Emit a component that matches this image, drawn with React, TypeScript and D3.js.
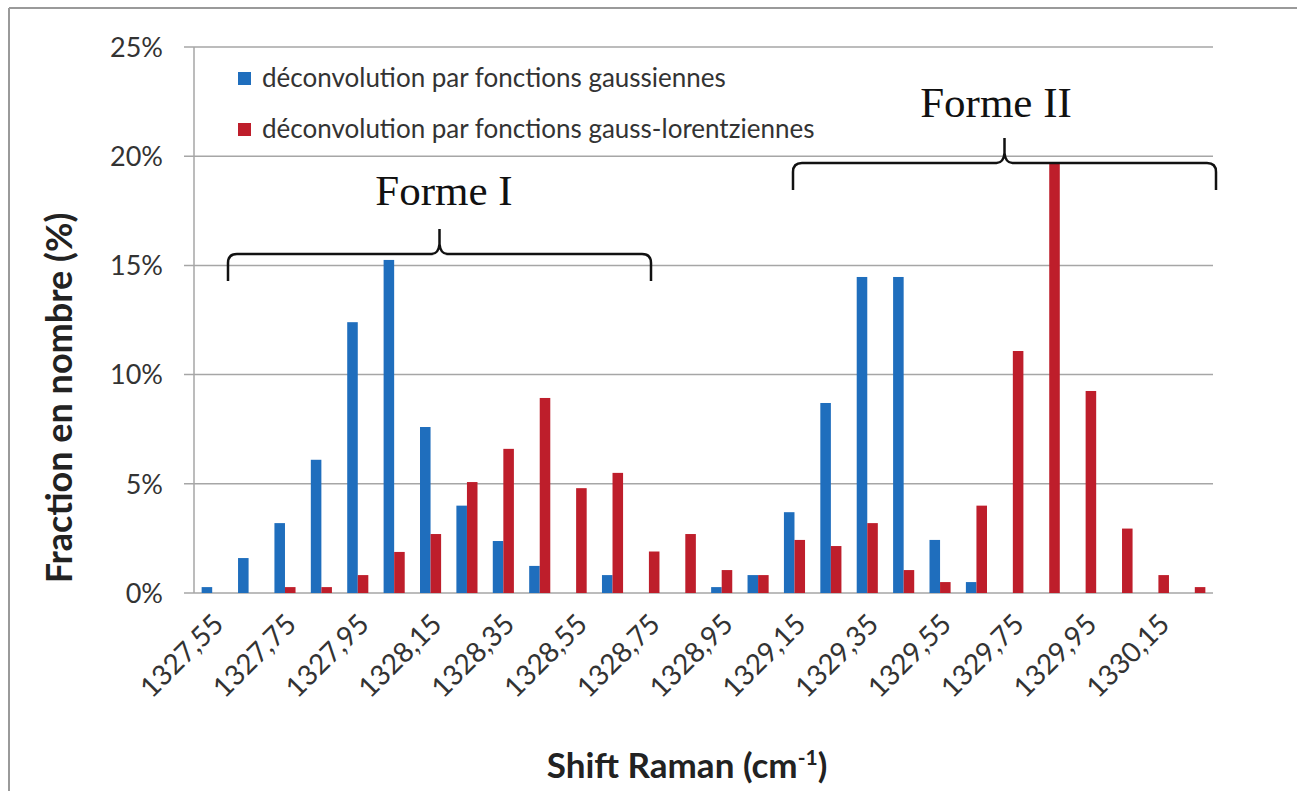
import React from "react";
import * as d3 from "d3";

const categories = [
  "1327,55", "1327,65", "1327,75", "1327,85", "1327,95", "1328,05", "1328,15",
  "1328,25", "1328,35", "1328,45", "1328,55", "1328,65", "1328,75", "1328,85",
  "1328,95", "1329,05", "1329,15", "1329,25", "1329,35", "1329,45", "1329,55",
  "1329,65", "1329,75", "1329,85", "1329,95", "1330,05", "1330,15", "1330,25",
];
const gaussiennes = [
  0.27, 1.6, 3.2, 6.1, 12.4, 15.25, 7.6, 4.0, 2.38, 1.24, 0, 0.82, 0, 0,
  0.27, 0.82, 3.7, 8.7, 14.47, 14.47, 2.43, 0.5, 0, 0, 0, 0, 0, 0,
];
const gaussLorentz = [
  0, 0, 0.27, 0.27, 0.82, 1.88, 2.7, 5.08, 6.6, 8.93, 4.8, 5.5, 1.9, 2.7,
  1.05, 0.82, 2.43, 2.15, 3.2, 1.05, 0.5, 4.0, 11.08, 19.7, 9.25, 2.95, 0.82, 0.27,
];
const seriesNames = [
  "déconvolution par fonctions gaussiennes",
  "déconvolution par fonctions gauss-lorentziennes",
];
const yTicks = [0, 5, 10, 15, 20, 25];
const groups = [
  { label: "Forme I", from: "1327,55", to: "1328,75" },
  { label: "Forme II", from: "1329,15", to: "1330,25" },
];

const BLUE = "#1f6ebd";
const RED = "#be1e2b";
const W = 1297;
const H = 791;
const left = 194, right = 1213, top = 47, bottom = 593;

export default function App() {
  const x0 = d3.scaleBand<string>().domain(categories).range([left, right]).paddingInner(0.42).paddingOuter(0.21);
  const x1 = d3.scaleBand<string>().domain(["g", "gl"]).range([0, x0.bandwidth()]).padding(0);
  const y = d3.scaleLinear().domain([0, 25]).range([bottom, top]);
  const sans = "Lato, 'Open Sans', sans-serif";
  const serif = "'Liberation Serif', 'Times New Roman', serif";

  const bracket = (xa: number, xb: number, yb: number) => {
    const xm = (xa + xb) / 2;
    const p = d3.path();
    p.moveTo(xa, yb + 27);
    p.lineTo(xa, yb + 9);
    p.quadraticCurveTo(xa, yb, xa + 9, yb);
    p.lineTo(xm - 8, yb);
    p.quadraticCurveTo(xm - 1, yb, xm, yb - 10);
    p.lineTo(xm, yb - 25);
    p.moveTo(xm, yb - 10);
    p.quadraticCurveTo(xm + 1, yb, xm + 8, yb);
    p.lineTo(xb - 9, yb);
    p.quadraticCurveTo(xb, yb, xb, yb + 9);
    p.lineTo(xb, yb + 27);
    return p.toString();
  };

  const bracketGeom = [
    { xa: 228, xb: 651, yb: 254, tx: 444, ty: 205 },
    { xa: 793, xb: 1216, yb: 163, tx: 996, ty: 117 },
  ];

  return (
    <svg width={W} height={H} style={{ position: "absolute", left: 0, top: 0, background: "#fff" }}>
      <rect x={0} y={0} width={W} height={H} fill="#fff" />
      <line x1={9} x2={W} y1={8} y2={8} stroke="#9a9a9a" strokeWidth={2} />
      <line x1={9} x2={9} y1={8} y2={H} stroke="#9a9a9a" strokeWidth={2} />

      {yTicks.map((t) => (
        <g key={t}>
          <line x1={left - 10} x2={right} y1={y(t)} y2={y(t)} stroke="#a6a6a6" strokeWidth={1.5} />
          <text x={163} y={y(t)} dy="0.36em" textAnchor="end" fontFamily={sans} fontSize={27} fill="#333">
            {t}%
          </text>
        </g>
      ))}
      <line x1={left} x2={left} y1={top} y2={bottom} stroke="#a6a6a6" strokeWidth={1.5} />

      {categories.map((c, i) => (
        <g key={c}>
          {gaussiennes[i] > 0 && (
            <rect x={(x0(c) as number) + (x1("g") as number)} y={y(gaussiennes[i])} width={x1.bandwidth()}
              height={y(0) - y(gaussiennes[i])} fill={BLUE} />
          )}
          {gaussLorentz[i] > 0 && (
            <rect x={(x0(c) as number) + (x1("gl") as number)} y={y(gaussLorentz[i])} width={x1.bandwidth()}
              height={y(0) - y(gaussLorentz[i])} fill={RED} />
          )}
        </g>
      ))}

      {categories.map((c, i) =>
        i % 2 === 0 && i < 27 ? (
          <text key={c} transform={`translate(${(x0(c) as number) + x0.bandwidth() / 2 + 6},${bottom + 26}) rotate(-45)`}
            textAnchor="end" dy="0.35em" fontFamily={sans} fontSize={28} fill="#333">
            {c}
          </text>
        ) : null
      )}

      {seriesNames.map((s, i) => (
        <g key={s}>
          <rect x={238} y={72 + i * 51} width={13} height={13} fill={i === 0 ? BLUE : RED} />
          <text x={262} y={87 + i * 51} fontFamily={sans} fontSize={26} fill="#333">{s}</text>
        </g>
      ))}

      {groups.map((g, i) => {
        const b = bracketGeom[i];
        return (
          <g key={g.label}>
            <path d={bracket(b.xa, b.xb, b.yb)} fill="none" stroke="#111" strokeWidth={2.5} />
            <text x={b.tx} y={b.ty} textAnchor="middle" fontFamily={serif} fontSize={43} fill="#111">
              {g.label}
            </text>
          </g>
        );
      })}

      <text transform={`translate(72,398) rotate(-90)`} textAnchor="middle" fontFamily={sans} fontWeight="bold"
        fontSize={36} fill="#222">
        Fraction en nombre (%)
      </text>
      <text x={687} y={778} textAnchor="middle" fontFamily={sans} fontWeight="bold" fontSize={35} fill="#222">
        Shift Raman (cm<tspan dy={-13} fontSize={21}>-1</tspan><tspan dy={13}>)</tspan>
      </text>
    </svg>
  );
}
